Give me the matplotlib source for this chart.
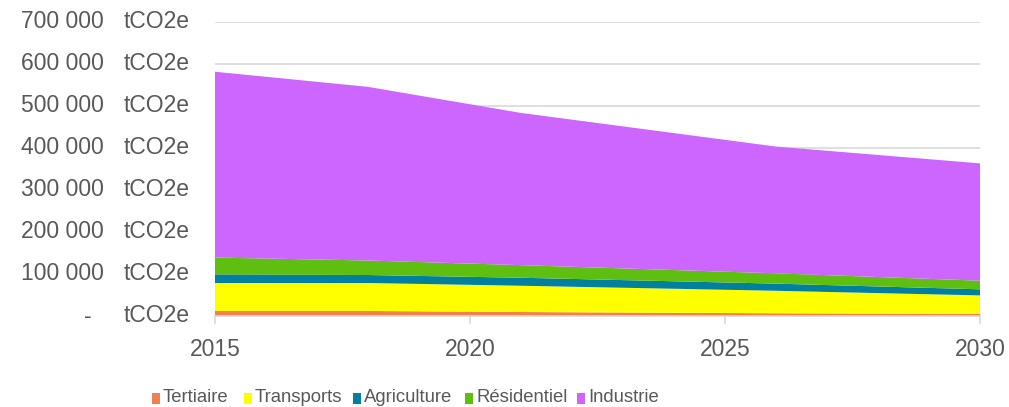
import matplotlib
matplotlib.use("Agg")
import matplotlib.pyplot as plt
import matplotlib.transforms as mtransforms
from matplotlib.patches import Rectangle

years = [2015, 2018, 2021, 2026, 2030]
tertiaire = [12000, 12000, 9500, 6500, 5000]
transports = [66500, 66500, 62500, 53500, 44000]
agriculture = [20500, 19000, 19000, 17000, 14500]
residentiel = [40000, 34500, 30000, 24500, 20500]
industrie = [442000, 413000, 362000, 301500, 279000]

series_names = ["Tertiaire", "Transports", "Agriculture", "Résidentiel", "Industrie"]
series_colors = ["#F0804F", "#FFFF00", "#00809F", "#5FBF10", "#CC66FF"]
y_ticks = [0, 100000, 200000, 300000, 400000, 500000, 600000, 700000]
y_tick_labels = ["-", "100 000", "200 000", "300 000", "400 000", "500 000", "600 000", "700 000"]
x_ticks = [2015, 2020, 2025, 2030]

txt_color = "#595959"
grid_color = "#D9D9D9"
plt.rcParams['font.family'] = ['Liberation Sans', 'DejaVu Sans']

W, H = 1009, 407
fig = plt.figure(figsize=(W / 100, H / 100), dpi=100)
ax = fig.add_axes([215 / W, 1 - 316 / H, (980 - 215) / W, (316 - 21.7) / H])

ax.stackplot(years, tertiaire, transports, agriculture, residentiel, industrie,
             colors=series_colors, labels=series_names, linewidth=0)

ax.set_xlim(2015, 2030)
ax.set_ylim(0, 700000)
ax.set_yticks(y_ticks)
ax.set_yticklabels([])
ax.tick_params(axis='y', length=0)
ax.yaxis.grid(True, color=grid_color, linewidth=1.2)
ax.set_axisbelow(True)
for s in ["left", "right", "top"]:
    ax.spines[s].set_visible(False)
ax.spines["bottom"].set_color(grid_color)
ax.spines["bottom"].set_linewidth(1.2)
ax.set_xticks(x_ticks)
ax.set_xticklabels([str(x) for x in x_ticks])
ax.tick_params(axis='x', colors=grid_color, length=6, width=1.2, labelcolor=txt_color,
               labelsize=16.5, pad=10)

trans = mtransforms.blended_transform_factory(fig.transFigure, ax.transData)
for v, lab in zip(y_ticks, y_tick_labels):
    xr = 92 if lab == "-" else 104
    ax.text(xr / W, v, lab, transform=trans, ha='right', va='center',
            fontsize=16.5, color=txt_color, clip_on=False)
    ax.text(124 / W, v, "tCO2e", transform=trans, ha='left', va='center',
            fontsize=16.5, color=txt_color, clip_on=False)

# legend drawn manually (entry left edges in figure pixels)
legend_x = [152, 244, 353, 465, 577]
ly = 398
for x0, c, n in zip(legend_x, series_colors, series_names):
    fig.patches.append(Rectangle((x0 / W, 1 - (ly + 5.5) / H), 8 / W, 11 / H,
                                 transform=fig.transFigure, facecolor=c, edgecolor='none'))
    fig.text((x0 + 11) / W, 1 - ly / H, n, ha='left', va='center', fontsize=13.3,
             color=txt_color)

fig.savefig("out.png", dpi=100)
